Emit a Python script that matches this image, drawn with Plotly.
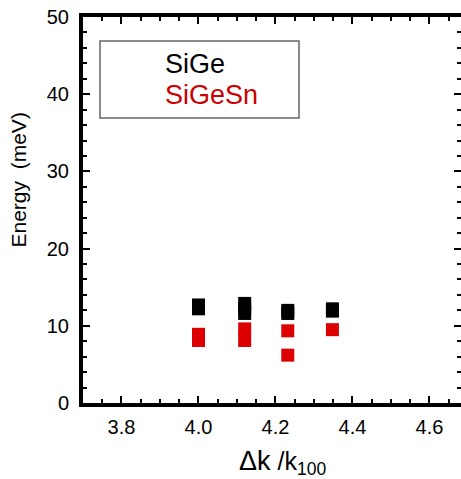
import plotly.graph_objects as go

sige_x = [4.0, 4.0, 4.12, 4.12, 4.12, 4.232, 4.232, 4.348, 4.348]
sige_y = [12.7, 12.2, 12.9, 12.3, 11.6, 12.0, 11.6, 12.2, 11.9]
sigesn_x = [4.0, 4.0, 4.12, 4.12, 4.232, 4.232, 4.348]
sigesn_y = [8.9, 8.1, 9.6, 8.1, 9.35, 6.2, 9.5]

x_ticks = [3.8, 4.0, 4.2, 4.4, 4.6]
y_ticks = [0, 10, 20, 30, 40, 50]

FONT = "Liberation Sans, Arial, sans-serif"
L, T, B, W, H = 83, 17, 76, 461, 479
PW, PH = W - L, H - T - B


def px(x):
    return (x - L) / PW


def py(y):
    return (H - B - y) / PH


fig = go.Figure()
fig.add_trace(go.Scatter(x=sige_x, y=sige_y, mode="markers", name="SiGe",
                         marker=dict(symbol="square", size=13, color="black", line=dict(width=0))))
fig.add_trace(go.Scatter(x=sigesn_x, y=sigesn_y, mode="markers", name="SiGeSn",
                         marker=dict(symbol="square", size=13, color="#dd0000", line=dict(width=0))))

axis_common = dict(showline=True, linecolor="black", linewidth=4, mirror="ticks",
                   ticks="inside", tickcolor="black", tickwidth=2, ticklen=7,
                   showgrid=False, zeroline=False, automargin=False,
                   tickfont=dict(family=FONT, size=20, color="black"))

fig.update_xaxes(range=[3.7, 4.682], tickvals=x_ticks, ticktext=[f"{v:.1f}" for v in x_ticks],
                 minor=dict(dtick=0.05, tick0=3.7, ticks="inside", ticklen=4, tickcolor="black", tickwidth=2),
                 ticklabelstandoff=3,
                 **axis_common)
fig.update_yaxes(range=[0, 50], tickvals=y_ticks,
                 minor=dict(dtick=2, tick0=0, ticks="inside", ticklen=4, tickcolor="black", tickwidth=2),
                 ticklabelstandoff=6,
                 **axis_common)

# axis titles
fig.add_annotation(text="<span style='font-size:27px'>Δk</span> /k<sub>100</sub>",
                   xref="paper", yref="paper", x=px(282), y=py(462),
                   xanchor="center", yanchor="middle", showarrow=False,
                   font=dict(family=FONT, size=25, color="black"))
fig.add_annotation(text="Energy  (meV)", textangle=-90,
                   xref="paper", yref="paper", x=px(18.5), y=py(180),
                   xanchor="center", yanchor="middle", showarrow=False,
                   font=dict(family=FONT, size=21, color="black"))

# legend box
fig.add_shape(type="rect", xref="paper", yref="paper",
              x0=px(100), x1=px(299), y0=py(118), y1=py(41),
              line=dict(color="#666666", width=1.5), fillcolor="white")
fig.add_annotation(text="SiGe", xref="paper", yref="paper", x=px(163), y=py(64),
                   xanchor="left", yanchor="middle", showarrow=False,
                   font=dict(family=FONT, size=27, color="black"))
fig.add_annotation(text="SiGeSn", xref="paper", yref="paper", x=px(163), y=py(95),
                   xanchor="left", yanchor="middle", showarrow=False,
                   font=dict(family=FONT, size=27, color="#cc0000"))

fig.update_layout(width=W, height=H, margin=dict(l=L, r=0, t=T, b=B),
                  plot_bgcolor="white", paper_bgcolor="white", showlegend=False)

fig.write_html("out.html", config={"displayModeBar": False},
               post_script="document.body.style.margin='0';")
